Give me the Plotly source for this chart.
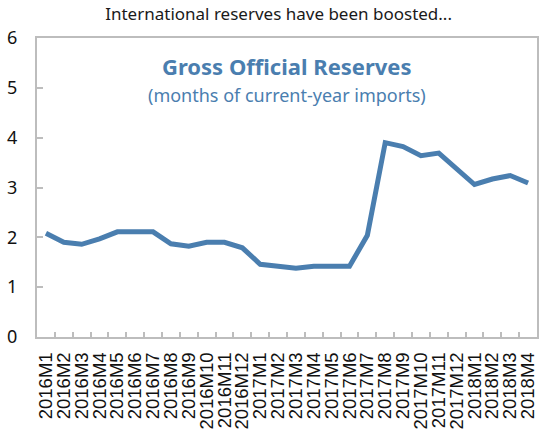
import plotly.graph_objects as go

categories = ["2016M1","2016M2","2016M3","2016M4","2016M5","2016M6","2016M7","2016M8","2016M9","2016M10","2016M11","2016M12",
              "2017M1","2017M2","2017M3","2017M4","2017M5","2017M6","2017M7","2017M8","2017M9","2017M10","2017M11","2017M12",
              "2018M1","2018M2","2018M3","2018M4"]
reserves = [2.08, 1.90, 1.86, 1.97, 2.11, 2.11, 2.11, 1.87, 1.82, 1.90, 1.90, 1.79,
            1.46, 1.42, 1.38, 1.42, 1.42, 1.42, 2.04, 3.90, 3.82, 3.64, 3.69, 3.38,
            3.06, 3.17, 3.24, 3.09]
y_ticks = [0, 1, 2, 3, 4, 5, 6]

line_color = "#4A7EAF"
axis_color = "#BDBDBD"

fig = go.Figure()
fig.add_trace(go.Scatter(x=categories, y=reserves, mode="lines",
                         line=dict(color=line_color, width=5), hoverinfo="skip"))

fig.update_layout(
    width=541, height=432,
    margin=dict(l=37, r=2, t=38, b=94),
    paper_bgcolor="white", plot_bgcolor="white",
    showlegend=False,
    title=dict(text="International reserves have been boosted...",
               x=0.515, xanchor="center", y=0.968, yanchor="middle",
               font=dict(family="Noto Sans", size=17, color="#1a1a1a")),
    annotations=[
        dict(text="<b>Gross Official Reserves</b>", xref="paper", yref="paper",
             x=0.5, y=0.905, xanchor="center", yanchor="middle", showarrow=False,
             font=dict(family="Noto Sans", size=22, color=line_color)),
        dict(text="(months of current-year imports)", xref="paper", yref="paper",
             x=0.5, y=0.808, xanchor="center", yanchor="middle", showarrow=False,
             font=dict(family="Noto Sans", size=18, color=line_color)),
    ],
)
fig.update_xaxes(type="category", range=[-0.5, len(categories) - 0.5],
                 tickmode="array", tickvals=categories, ticktext=categories,
                 tickangle=-90, ticks="inside", tickson="boundaries", ticklen=5,
                 tickcolor=axis_color, tickwidth=1.5, ticklabelstandoff=6,
                 showline=True, linecolor=axis_color, linewidth=2, mirror=True,
                 showgrid=False, zeroline=False,
                 tickfont=dict(family="Liberation Sans", size=18.5, color="#111111"))
fig.update_yaxes(range=[0, 6], tickmode="array", tickvals=y_ticks,
                 ticks="inside", ticklen=6, tickcolor=axis_color, tickwidth=1.5,
                 ticklabelstandoff=14,
                 showline=True, linecolor=axis_color, linewidth=2, mirror=True,
                 showgrid=False, zeroline=False,
                 tickfont=dict(family="Noto Sans", size=18, color="#111111"))

fig.write_html("out.html")
